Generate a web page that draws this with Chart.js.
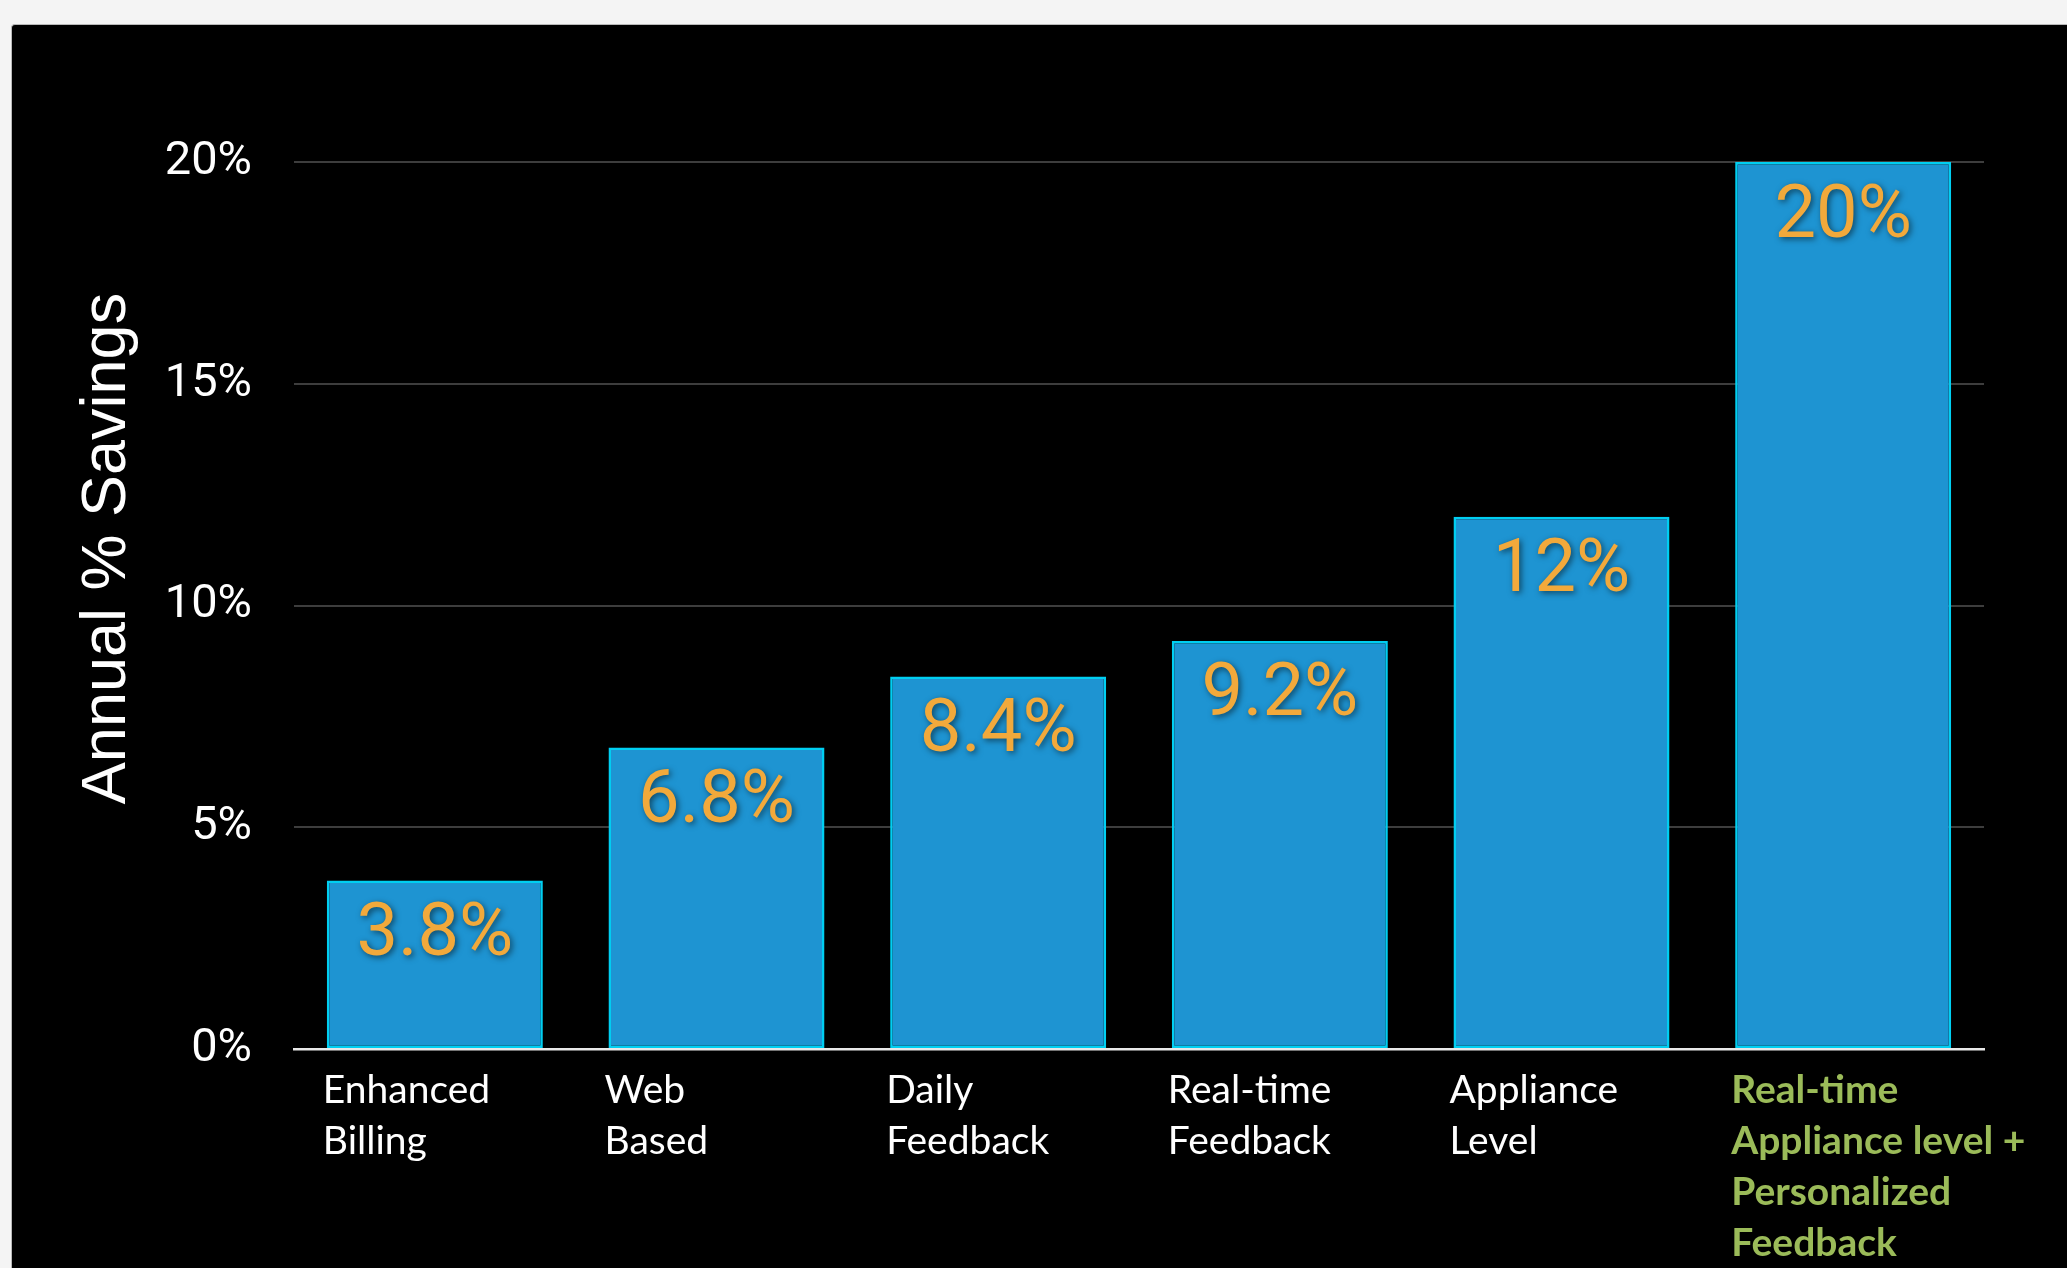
<!DOCTYPE html>
<html>
<head>
<meta charset="utf-8">
<title>Annual % Savings</title>
<script src="https://cdn.jsdelivr.net/npm/chart.js@4.4.0/dist/chart.umd.min.js"></script>
<style>
  html, body { margin: 0; padding: 0; background: #f4f4f4; width: 2067px; height: 1268px; overflow: hidden; }
  .panel {
    position: absolute; left: 11px; top: 24px; width: 2056px; height: 1244px;
    background: #000; border-top: 1px solid #b8b8b8; border-left: 1px solid #b8b8b8;
    border-top-left-radius: 4px; box-sizing: border-box;
  }
  .panel canvas { display: block; }
</style>
</head>
<body>
<div class="panel"><canvas id="savingsChart"></canvas></div>
<script>
// Data
const categories = [
  ['Enhanced', 'Billing'],
  ['Web', 'Based'],
  ['Daily', 'Feedback'],
  ['Real-time', 'Feedback'],
  ['Appliance', 'Level'],
  ['Real-time', 'Appliance level +', 'Personalized', 'Feedback']
];
const savings = [3.8, 6.8, 8.4, 9.2, 12, 20];
const valueLabels = ['3.8%', '6.8%', '8.4%', '9.2%', '12%', '20%'];
const yTickValues = [0, 5, 10, 15, 20];
const yTitle = 'Annual % Savings';

// Draw the value labels inside the top of each bar
const valueLabelPlugin = {
  id: 'valueLabels',
  afterDatasetsDraw(chart) {
    const ctx = chart.ctx;
    const meta = chart.getDatasetMeta(0);
    ctx.save();
    ctx.font = '400 74px Roboto';
    ctx.fillStyle = '#f2a93b';
    ctx.textAlign = 'center';
    ctx.textBaseline = 'middle';
    ctx.shadowColor = 'rgba(0, 0, 0, 0.55)';
    ctx.shadowBlur = 6;
    ctx.shadowOffsetX = 2;
    ctx.shadowOffsetY = 2;
    meta.data.forEach((bar, i) => {
      ctx.fillText(valueLabels[i], bar.x, bar.y + 56);
    });
    ctx.restore();
  }
};

// Rotated y axis title, sitting a bit above the middle like the original slide
const yTitlePlugin = {
  id: 'yTitle',
  afterDraw(chart) {
    const area = chart.chartArea;
    const ctx = chart.ctx;
    ctx.save();
    ctx.translate(area.left - 169, (area.top + area.bottom) / 2 - 57);
    ctx.rotate(-Math.PI / 2);
    ctx.font = '63px "Liberation Sans", Arial, sans-serif';
    ctx.fillStyle = '#ffffff';
    ctx.textAlign = 'center';
    ctx.textBaseline = 'alphabetic';
    ctx.fillText(yTitle, 0, 0);
    ctx.restore();
  }
};

const ctx = document.getElementById('savingsChart').getContext('2d');
const savingsChart = new Chart(ctx, {
  type: 'bar',
  data: {
    labels: categories,
    datasets: [{
      label: 'Annual % Savings',
      data: savings,
      backgroundColor: '#1e94d2',
      borderColor: '#00cff2',
      borderWidth: 2.5,
      borderSkipped: false,
      categoryPercentage: 1,
      barPercentage: 0.767
    }]
  },
  options: {
    responsive: true,
    maintainAspectRatio: false,
    animation: false,
    layout: {
      padding: { left: 0, right: 83, top: 137, bottom: 0 }
    },
    plugins: {
      legend: { display: false },
      tooltip: { enabled: false },
      title: { display: false }
    },
    scales: {
      x: {
        grid: { display: false, drawTicks: false },
        border: { display: true, color: '#e8e8e8', width: 2.5 },
        ticks: {
          align: 'start',
          labelOffset: -112,
          padding: 16,
          maxRotation: 0,
          autoSkip: false,
          color: (c) => c.index === categories.length - 1 ? '#9bbb59' : '#ffffff',
          font: (c) => ({
            family: 'Lato, "Open Sans", sans-serif',
            size: 39,
            weight: c.index === categories.length - 1 ? 'bold' : 'normal',
            lineHeight: 1.31
          })
        },
        afterFit: (scale) => {
          scale.height = 219;
          scale.paddingLeft = 0;
          scale.paddingRight = 0;
        }
      },
      y: {
        min: 0,
        max: 20,
        afterBuildTicks: (scale) => {
          scale.ticks = yTickValues.map(v => ({ value: v }));
        },
        grid: {
          drawTicks: false,
          color: (c) => c.tick && c.tick.value === 0 ? '#e8e8e8' : '#3d3d3d',
          lineWidth: 2
        },
        border: { display: false },
        ticks: {
          padding: 42,
          color: '#ffffff',
          font: { family: 'Roboto', size: 47, weight: '400' },
          callback: (v) => v + '%'
        },
        afterFit: (scale) => {
          scale.width = 282;
          scale.paddingTop = 0;
          scale.paddingBottom = 0;
        }
      }
    }
  },
  plugins: [valueLabelPlugin, yTitlePlugin]
});
</script>
</body>
</html>
